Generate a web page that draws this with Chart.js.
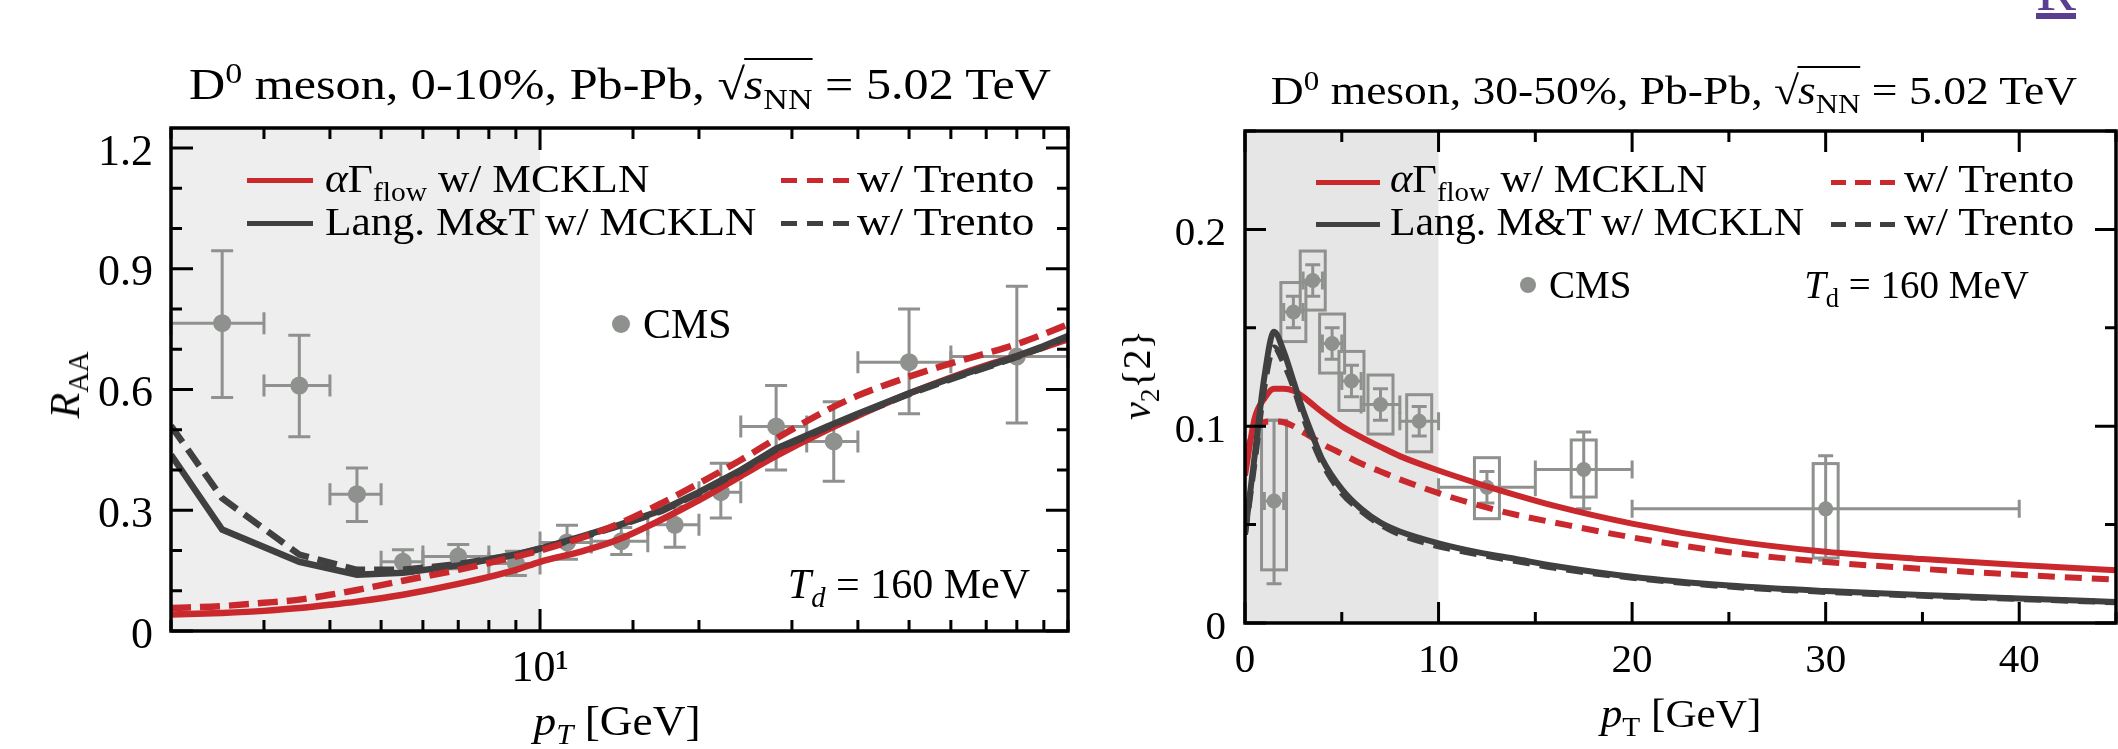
<!DOCTYPE html>
<html>
<head>
<meta charset="utf-8">
<title>D0 meson R_AA and v2{2}</title>
<script src="https://cdn.jsdelivr.net/npm/chart.js@4.4.1/dist/chart.umd.min.js"></script>
<style>
  html, body { margin: 0; padding: 0; background: #fff; overflow: hidden; }
  body { width: 2118px; height: 749px; position: relative; font-family: "Liberation Serif", serif; color: #000; }
  canvas { position: absolute; top: 0; }
  .t { position: absolute; line-height: 1; white-space: nowrap; transform-origin: left center; }
  sub, sup { font-size: 68%; line-height: 0; }
  .ov { border-top: 2px solid #000; margin-left: -1px; }
  .line { position: absolute; height: 5px; }
  .dot { position: absolute; border-radius: 50%; background: #8e918d; }
</style>
</head>
<body>

<canvas id="raa" width="1100" height="749" style="left:0"></canvas>
<canvas id="v2" width="1030" height="749" style="left:1100px"></canvas>

<!-- left panel texts -->
<div class="t" style="left:620px; top:63px; font-size:44px; transform-origin:center; transform:translateX(-50%) scaleX(1.14)">D<sup>0</sup> meson, 0-10%, Pb-Pb, √<span class="ov"><i>s</i><sub>NN</sub></span> = 5.02 TeV</div>
<div class="t" style="left:65px; top:385px; font-size:42px; transform-origin:center; transform:translate(-50%,-50%) rotate(-90deg)"><i>R</i><sub>AA</sub></div>
<div class="t" style="left:617px; top:700px; font-size:42px; transform-origin:center; transform:translateX(-50%) scaleX(1.08)"><i>p<sub>T</sub></i> [GeV]</div>

<div class="line" style="left:247px; top:178px; width:66px; background:#c9282d"></div>
<div class="line" style="left:247px; top:221px; width:66px; background:#404040"></div>
<div class="line" style="left:781px; top:178px; width:68px; background:repeating-linear-gradient(90deg,#c9282d 0 16px,transparent 16px 26px)"></div>
<div class="line" style="left:781px; top:221px; width:68px; background:repeating-linear-gradient(90deg,#404040 0 16px,transparent 16px 26px)"></div>
<div class="t" style="left:325px; top:158px; font-size:41px; transform:scaleX(1.06)"><i>α</i>Γ<sub>flow</sub> w/ MCKLN</div>
<div class="t" style="left:325px; top:201px; font-size:41px; transform:scaleX(1.06)">Lang. M&amp;T w/ MCKLN</div>
<div class="t" style="left:857px; top:158px; font-size:41px; transform:scaleX(1.12)">w/ Trento</div>
<div class="t" style="left:857px; top:201px; font-size:41px; transform:scaleX(1.12)">w/ Trento</div>

<div class="dot" style="left:612px; top:315px; width:18px; height:18px"></div>
<div class="t" style="left:643px; top:303px; font-size:42px">CMS</div>
<div class="t" style="left:1030px; top:563px; font-size:42px; transform:translateX(-100%)"><i>T<sub>d</sub></i> = 160 MeV</div>

<!-- right panel texts -->
<div class="t" style="left:1674px; top:71px; font-size:40px; transform-origin:center; transform:translateX(-50%) scaleX(1.14)">D<sup>0</sup> meson, 30-50%, Pb-Pb, √<span class="ov"><i>s</i><sub>NN</sub></span> = 5.02 TeV</div>
<div class="t" style="left:1137px; top:375px; font-size:40px; transform-origin:center; transform:translate(-50%,-50%) rotate(-90deg)"><i>v</i><sub>2</sub>{2}</div>
<div class="t" style="left:1681px; top:694px; font-size:40px; transform-origin:center; transform:translateX(-50%) scaleX(1.08)"><i>p</i><sub>T</sub> [GeV]</div>

<div class="line" style="left:1316px; top:180px; width:64px; background:#c9282d"></div>
<div class="line" style="left:1316px; top:222px; width:64px; background:#404040"></div>
<div class="line" style="left:1831px; top:180px; width:64px; background:repeating-linear-gradient(90deg,#c9282d 0 15px,transparent 15px 24.5px)"></div>
<div class="line" style="left:1831px; top:222px; width:64px; background:repeating-linear-gradient(90deg,#404040 0 15px,transparent 15px 24.5px)"></div>
<div class="t" style="left:1390px; top:159px; font-size:39px; transform:scaleX(1.09)"><i>α</i>Γ<sub>flow</sub> w/ MCKLN</div>
<div class="t" style="left:1390px; top:202px; font-size:39px; transform:scaleX(1.07)">Lang. M&amp;T w/ MCKLN</div>
<div class="t" style="left:1904px; top:159px; font-size:39px; transform:scaleX(1.13)">w/ Trento</div>
<div class="t" style="left:1904px; top:202px; font-size:39px; transform:scaleX(1.13)">w/ Trento</div>

<div class="dot" style="left:1520px; top:277px; width:16px; height:16px"></div>
<div class="t" style="left:1549px; top:265px; font-size:39px">CMS</div>
<div class="t" style="left:2029px; top:265px; font-size:39px; transform:translateX(-100%)"><i>T</i><sub>d</sub> = 160 MeV</div>

<div class="t" style="left:2036px; top:-40px; font-size:60px; color:#5b3e8f; text-decoration:underline">R</div>

<script>
// ---- CMS D0 R_AA, 0-10% ----
const raaPt    = [2.5, 3.5, 4.5, 5.5, 7, 9, 11.25, 14.25, 18, 22, 28, 36, 50, 80];
const raaPtLo  = [2, 3, 4, 5, 6, 8, 10, 12.5, 16, 20, 24, 32, 40, 60];
const raaPtHi  = [3, 4, 5, 6, 8, 10, 12.5, 16, 20, 24, 32, 40, 60, 100];
const raaCms   = [0.765, 0.61, 0.34, 0.172, 0.185, 0.168, 0.22, 0.223, 0.264, 0.345, 0.508, 0.471, 0.668, 0.682];
const raaCmsHi = [0.945, 0.735, 0.405, 0.202, 0.215, 0.198, 0.263, 0.257, 0.31, 0.417, 0.61, 0.57, 0.80, 0.857];
const raaCmsLo = [0.58, 0.483, 0.272, 0.142, 0.155, 0.138, 0.178, 0.19, 0.208, 0.281, 0.40, 0.372, 0.54, 0.517];

// model curves, R_AA
const raaFlowPt     = [2, 2.5, 3, 3.5, 4, 4.5, 5.5, 7, 9, 10, 12, 14, 17, 20, 24, 28, 35, 40, 50, 60, 70, 80, 90, 100];
const raaFlowMckln  = [0.041, 0.045, 0.05, 0.057, 0.065, 0.073, 0.09, 0.117, 0.152, 0.172, 0.198, 0.226, 0.277, 0.325, 0.385, 0.435, 0.5, 0.535, 0.59, 0.63, 0.66, 0.683, 0.705, 0.725];
const raaFlowTrento = [0.057, 0.062, 0.07, 0.078, 0.09, 0.102, 0.125, 0.152, 0.185, 0.2, 0.232, 0.265, 0.318, 0.367, 0.425, 0.478, 0.549, 0.585, 0.632, 0.665, 0.69, 0.713, 0.738, 0.762];
const raaLangPt     = [2, 2.5, 3.5, 4.5, 5.5, 7, 9, 10, 12, 14, 17, 20, 24, 28, 35, 40, 50, 60, 70, 80, 90, 100];
const raaLangMckln  = [0.438, 0.252, 0.172, 0.14, 0.145, 0.163, 0.19, 0.205, 0.235, 0.262, 0.3, 0.345, 0.4, 0.453, 0.508, 0.54, 0.591, 0.628, 0.657, 0.683, 0.708, 0.733];
const raaLangTrento = [0.51, 0.33, 0.19, 0.152, 0.152, 0.166, 0.19, 0.204, 0.233, 0.26, 0.298, 0.343, 0.398, 0.451, 0.506, 0.538, 0.589, 0.626, 0.655, 0.681, 0.706, 0.731];

// ---- CMS D0 v2{2}, 30-50% ----
const v2Pt     = [1.5, 2.5, 3.5, 4.5, 5.5, 7, 9, 12.5, 17.5, 30];
const v2PtLo   = [1, 2, 3, 4, 5, 6, 8, 10, 15, 20];
const v2PtHi   = [2, 3, 4, 5, 6, 8, 10, 15, 20, 40];
const v2Cms    = [0.062, 0.158, 0.174, 0.142, 0.123, 0.111, 0.1025, 0.069, 0.078, 0.058];
const v2StatHi = [0.103, 0.166, 0.182, 0.15, 0.131, 0.119, 0.11, 0.077, 0.097, 0.085];
const v2StatLo = [0.02, 0.15, 0.166, 0.134, 0.115, 0.103, 0.095, 0.061, 0.058, 0.032];
const v2SysHi  = [0.103, 0.173, 0.189, 0.157, 0.138, 0.126, 0.116, 0.084, 0.093, 0.081];
const v2SysLo  = [0.027, 0.143, 0.159, 0.127, 0.108, 0.096, 0.087, 0.053, 0.064, 0.033];

// model curves, v2
const v2CurvePt    = [0, 0.5, 1, 1.5, 2, 2.5, 3, 3.5, 4, 5, 6, 7, 8, 10, 12, 14, 16, 20, 25, 30, 35, 40, 45];
const v2FlowMckln  = [0.075, 0.104, 0.114, 0.119, 0.119, 0.118, 0.115, 0.111, 0.107, 0.1, 0.0945, 0.0895, 0.0848, 0.0775, 0.071, 0.065, 0.0595, 0.0505, 0.042, 0.0362, 0.0325, 0.0295, 0.0268];
const v2FlowTrento = [0.085, 0.098, 0.102, 0.1025, 0.102, 0.1, 0.097, 0.094, 0.091, 0.086, 0.081, 0.077, 0.073, 0.066, 0.06, 0.055, 0.051, 0.0435, 0.036, 0.031, 0.0275, 0.0245, 0.022];
const v2LangMckln  = [0.045, 0.085, 0.125, 0.148, 0.138, 0.123, 0.108, 0.095, 0.083, 0.068, 0.058, 0.051, 0.0465, 0.0405, 0.036, 0.0325, 0.029, 0.0235, 0.019, 0.0162, 0.0142, 0.0125, 0.0107];
const v2LangTrento = [0.045, 0.082, 0.12, 0.14, 0.132, 0.12, 0.105, 0.092, 0.081, 0.066, 0.057, 0.05, 0.045, 0.039, 0.035, 0.0315, 0.028, 0.023, 0.0185, 0.0158, 0.0138, 0.0122, 0.0105];

const RED = "#c9282d";
const DARK = "#404040";
const GRAY = "#8e918d";
const FONT = "Liberation Serif";

function pts(xs, ys) {
  return xs.map((x, i) => ({ x: x, y: ys[i] }));
}
function near(v, step) {
  const r = v / step;
  return Math.abs(r - Math.round(r)) < 1e-6;
}

// frame box with inward ticks on all four sides
function makeFrame(cfg) {
  return {
    id: "frame",
    afterDraw(chart) {
      const { ctx, chartArea: a, scales: { x, y } } = chart;
      ctx.save();
      ctx.strokeStyle = "#000";
      ctx.lineWidth = 3;
      ctx.beginPath();
      x.ticks.forEach(t => {
        const kind = cfg.xKind(t.value);
        if (!kind) return;
        const len = kind === "major" ? cfg.majorLen : cfg.minorLen;
        const px = x.getPixelForValue(t.value);
        ctx.moveTo(px, a.bottom); ctx.lineTo(px, a.bottom - len);
        ctx.moveTo(px, a.top); ctx.lineTo(px, a.top + len);
      });
      y.ticks.forEach(t => {
        const kind = cfg.yKind(t.value);
        if (!kind) return;
        const len = kind === "major" ? cfg.majorLen : cfg.minorLen;
        const py = y.getPixelForValue(t.value);
        ctx.moveTo(a.left, py); ctx.lineTo(a.left + len, py);
        ctx.moveTo(a.right, py); ctx.lineTo(a.right - len, py);
      });
      ctx.stroke();
      ctx.lineWidth = 3.5;
      ctx.strokeRect(a.left, a.top, a.right - a.left, a.bottom - a.top);
      ctx.restore();
    }
  };
}

// shaded low-pT band plus CMS error bars (and systematic boxes)
function makeCms(cfg) {
  return {
    id: "cms",
    beforeDatasetsDraw(chart) {
      const { ctx, chartArea: a, scales: { x, y } } = chart;
      ctx.save();
      ctx.fillStyle = cfg.shade;
      ctx.fillRect(a.left, a.top, x.getPixelForValue(cfg.shadeTo) - a.left, a.bottom - a.top);

      ctx.strokeStyle = GRAY;
      ctx.lineWidth = 3;
      cfg.pt.forEach((p, i) => {
        const px = x.getPixelForValue(p);
        const py = y.getPixelForValue(cfg.val[i]);
        const x0 = x.getPixelForValue(cfg.lo[i]);
        const x1 = x.getPixelForValue(cfg.hi[i]);
        const y0 = y.getPixelForValue(cfg.errLo[i]);
        const y1 = y.getPixelForValue(cfg.errHi[i]);
        const cx = cfg.capX / 2, cy = cfg.capY / 2;
        ctx.beginPath();
        ctx.moveTo(x0, py); ctx.lineTo(x1, py);
        ctx.moveTo(x0, py - cx); ctx.lineTo(x0, py + cx);
        ctx.moveTo(x1, py - cx); ctx.lineTo(x1, py + cx);
        ctx.moveTo(px, y0); ctx.lineTo(px, y1);
        ctx.moveTo(px - cy, y0); ctx.lineTo(px + cy, y0);
        ctx.moveTo(px - cy, y1); ctx.lineTo(px + cy, y1);
        ctx.stroke();
        if (cfg.sysLo) {
          const s0 = y.getPixelForValue(cfg.sysLo[i]);
          const s1 = y.getPixelForValue(cfg.sysHi[i]);
          ctx.strokeRect(px - cfg.box / 2, s1, cfg.box, s0 - s1);
        }
      });
      ctx.restore();
    }
  };
}

function curve(label, xs, ys, color, dash, width, order, mode) {
  return {
    label: label,
    data: pts(xs, ys),
    borderColor: color,
    borderWidth: width,
    borderDash: dash,
    pointRadius: 0,
    fill: false,
    tension: mode ? 0.4 : 0,
    cubicInterpolationMode: mode || "default",
    order: order
  };
}

// LEFT: R_AA vs pT (log axis)
new Chart(document.getElementById("raa"), {
  type: "line",
  data: {
    datasets: [
      { label: "CMS", data: pts(raaPt, raaCms), showLine: false, pointRadius: 9,
        pointBackgroundColor: GRAY, pointBorderWidth: 0, order: 10 },
      curve("αΓflow w/ MCKLN", raaFlowPt, raaFlowMckln, RED, [], 6.5, 4, "monotone"),
      curve("Lang. M&T w/ Trento", raaLangPt, raaLangTrento, DARK, [20, 9], 6.5, 3),
      curve("Lang. M&T w/ MCKLN", raaLangPt, raaLangMckln, DARK, [], 6.5, 2),
      curve("αΓflow w/ Trento", raaFlowPt, raaFlowTrento, RED, [20, 9], 6.5, 1, "monotone")
    ]
  },
  options: {
    responsive: false,
    animation: false,
    layout: { padding: { top: 128, right: 32, bottom: 0, left: 0 } },
    plugins: { legend: { display: false }, tooltip: { enabled: false } },
    scales: {
      x: {
        type: "logarithmic", min: 2, max: 100,
        grid: { display: false, drawTicks: false }, border: { display: false },
        ticks: {
          autoSkip: false, includeBounds: false, maxRotation: 0, padding: 12, color: "#000",
          font: { family: FONT, size: 44 },
          callback: v => (Math.abs(v - 10) < 1e-9 ? "10¹" : "")
        },
        afterFit: s => { s.height = 118; }
      },
      y: {
        min: 0, max: 1.25,
        grid: { display: false, drawTicks: false }, border: { display: false },
        ticks: {
          stepSize: 0.1, autoSkip: false, includeBounds: false, padding: 18, labelOffset: 5, color: "#000",
          font: { family: FONT, size: 44 },
          callback: v => (near(v, 0.3) ? String(Math.round(v * 10) / 10) : "")
        },
        afterFit: s => { s.width = 171; }
      }
    }
  },
  plugins: [
    makeCms({ shade: "#eeeeee", shadeTo: 10, pt: raaPt, lo: raaPtLo, hi: raaPtHi, val: raaCms,
              errLo: raaCmsLo, errHi: raaCmsHi, capX: 22, capY: 22 }),
    makeFrame({
      majorLen: 22, minorLen: 11,
      xKind: v => (Math.abs(v - 10) < 1e-9 ? "major" : "minor"),
      yKind: v => (near(v, 0.3) ? "major" : near(v, 0.1) ? "minor" : null)
    })
  ]
});

// RIGHT: v2{2} vs pT (linear axis)
new Chart(document.getElementById("v2"), {
  type: "line",
  data: {
    datasets: [
      { label: "CMS", data: pts(v2Pt, v2Cms), showLine: false, pointRadius: 7.5,
        pointBackgroundColor: GRAY, pointBorderWidth: 0, order: 10 },
      curve("αΓflow w/ MCKLN", v2CurvePt, v2FlowMckln, RED, [], 6, 4, "monotone"),
      curve("αΓflow w/ Trento", v2CurvePt, v2FlowTrento, RED, [17, 10], 6, 3, "monotone"),
      curve("Lang. M&T w/ Trento", v2CurvePt, v2LangTrento, DARK, [17, 10], 6, 2, "monotone"),
      curve("Lang. M&T w/ MCKLN", v2CurvePt, v2LangMckln, DARK, [], 6, 1, "monotone")
    ]
  },
  options: {
    responsive: false,
    animation: false,
    layout: { padding: { top: 131, right: 9, bottom: 0, left: 0 } },
    plugins: { legend: { display: false }, tooltip: { enabled: false } },
    scales: {
      x: {
        type: "linear", min: 0, max: 45,
        grid: { display: false, drawTicks: false }, border: { display: false },
        ticks: {
          stepSize: 5, autoSkip: false, includeBounds: false, maxRotation: 0, padding: 14, color: "#000",
          font: { family: FONT, size: 41 },
          callback: v => (near(v, 10) ? String(Math.round(v)) : "")
        },
        afterFit: s => { s.height = 126; }
      },
      y: {
        min: 0, max: 0.25,
        grid: { display: false, drawTicks: false }, border: { display: false },
        ticks: {
          stepSize: 0.05, autoSkip: false, includeBounds: false, padding: 19, labelOffset: 5, color: "#000",
          font: { family: FONT, size: 41 },
          callback: v => (near(v, 0.1) ? String(Math.round(v * 10) / 10) : "")
        },
        afterFit: s => { s.width = 145; }
      }
    }
  },
  plugins: [
    makeCms({ shade: "#e6e6e6", shadeTo: 10, pt: v2Pt, lo: v2PtLo, hi: v2PtHi, val: v2Cms,
              errLo: v2StatLo, errHi: v2StatHi, sysLo: v2SysLo, sysHi: v2SysHi,
              capX: 18, capY: 15, box: 25 }),
    makeFrame({
      majorLen: 21, minorLen: 11,
      xKind: v => (near(v, 10) ? "major" : near(v, 5) ? "minor" : null),
      yKind: v => (near(v, 0.1) ? "major" : near(v, 0.05) ? "minor" : null)
    })
  ]
});
</script>
</body>
</html>
